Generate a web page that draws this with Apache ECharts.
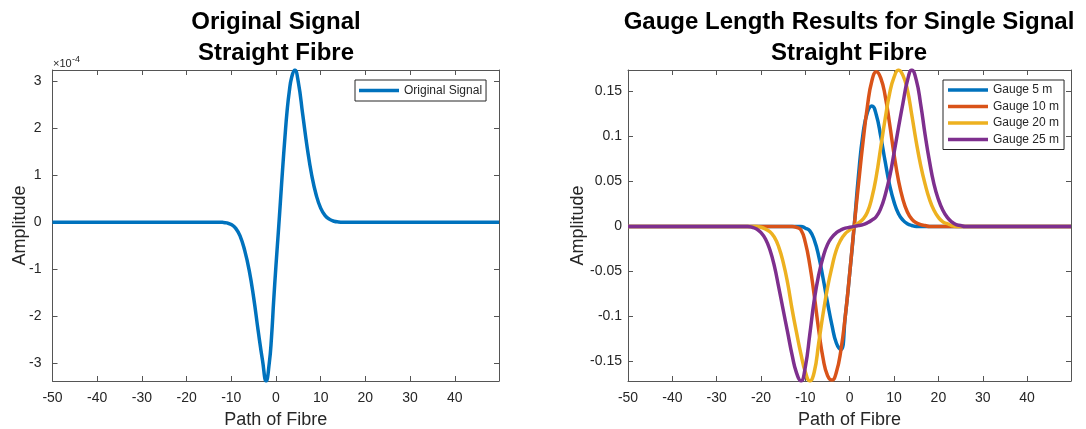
<!DOCTYPE html>
<html>
<head>
<meta charset="utf-8">
<script src="https://cdn.jsdelivr.net/npm/echarts@6/dist/echarts.min.js"></script>
<style>
  html, body { margin: 0; padding: 0; background: #fff; }
  #chart { width: 1086px; height: 429px; }
</style>
</head>
<body>
<div id="chart"></div>
<script>
// ---- left panel: original signal (amplitude shown in units of 1e-4) ----
const origX = [-50, -40, -30, -20, -15, -13, -12, -11, -10, -9, -8, -7, -6, -5, -4, -3, -2.2, -1.5, -1, -0.5,
  0, 0.5, 1, 1.5, 2, 2.5, 3, 3.5, 4.2, 5, 6, 7, 8, 9, 10, 11, 12, 13, 14, 15, 20, 30, 40, 49.9];
const origAmp = [0, 0, 0, 0, 0, 0, -0.003, -0.015, -0.05, -0.13, -0.3, -0.6, -1.02, -1.6, -2.3, -2.95, -3.38, -3.0, -2.45, -1.65,
  -0.92, -0.25, 0.45, 1.15, 1.8, 2.38, 2.8, 3.08, 3.24, 2.98, 2.28, 1.58, 1.0, 0.58, 0.3, 0.14, 0.06, 0.02, 0.005, 0, 0, 0, 0, 0];

// ---- right panel: gauge length results ----
const gaugeX = [-50, -40, -30, -25, -24, -23, -22, -21, -20, -19, -18, -17, -16, -15, -14, -13, -12, -11, -10, -9,
  -8, -7, -6, -5, -4, -3, -2, -1, 0, 1, 2, 3, 4, 5, 6, 7, 8, 9, 10, 11,
  12, 13, 14, 15, 16, 17, 18, 19, 20, 21, 22, 23, 24, 25, 26, 27, 28, 30, 40, 49.9];
const gauge5 = [0, 0, 0, 0, 0, 0, 0, 0, 0, 0, 0, 0, 0, 0, 0, 0, 0, 0, -0.002, -0.005,
  -0.015, -0.033, -0.058, -0.085, -0.11, -0.13, -0.137, -0.1, -0.052, 0, 0.058, 0.103, 0.127, 0.134, 0.124, 0.1, 0.072, 0.046, 0.027, 0.014,
  0.007, 0.003, 0.001, 0, 0, 0, 0, 0, 0, 0, 0, 0, 0, 0, 0, 0, 0, 0, 0, 0];
const gauge10 = [0, 0, 0, 0, 0, 0, 0, 0, 0, 0, 0, 0, 0, 0, 0, 0, -0.001, -0.004, -0.018, -0.043,
  -0.077, -0.115, -0.147, -0.166, -0.171, -0.162, -0.138, -0.1, -0.052, 0, 0.048, 0.094, 0.134, 0.162, 0.172, 0.165, 0.145, 0.114, 0.08, 0.051,
  0.03, 0.016, 0.008, 0.004, 0.002, 0.001, 0, 0, 0, 0, 0, 0, 0, 0, 0, 0, 0, 0, 0, 0];
const gauge20 = [0, 0, 0, 0, 0, 0, 0, 0, -0.001, -0.003, -0.006, -0.012, -0.023, -0.04, -0.063, -0.092, -0.118, -0.142, -0.162, -0.172,
  -0.162, -0.13, -0.097, -0.068, -0.045, -0.026, -0.015, -0.008, -0.004, 0, 0.004, 0.008, 0.016, 0.032, 0.056, 0.088, 0.12, 0.148, 0.166, 0.174,
  0.168, 0.152, 0.124, 0.094, 0.068, 0.047, 0.03, 0.018, 0.01, 0.005, 0.003, 0.001, 0, 0, 0, 0, 0, 0, 0, 0];
const gauge25 = [0, 0, 0, 0, 0, 0, -0.001, -0.003, -0.007, -0.014, -0.026, -0.044, -0.068, -0.093, -0.118, -0.143, -0.163, -0.172, -0.156, -0.12,
  -0.082, -0.054, -0.034, -0.02, -0.012, -0.007, -0.004, -0.002, -0.001, 0, 0.001, 0.002, 0.004, 0.007, 0.011, 0.02, 0.035, 0.055, 0.082, 0.11,
  0.137, 0.162, 0.174, 0.163, 0.136, 0.102, 0.072, 0.047, 0.03, 0.018, 0.01, 0.005, 0.002, 0.001, 0, 0, 0, 0, 0, 0];

const gaugeNames = ['Gauge 5 m', 'Gauge 10 m', 'Gauge 20 m', 'Gauge 25 m'];
const gaugeColors = ['#0072BD', '#D95319', '#EDB120', '#7E2F8E'];

const xTicks = [-50, -40, -30, -20, -10, 0, 10, 20, 30, 40];
const yTicksLeft = [-3, -2, -1, 0, 1, 2, 3];
const yTicksRight = [-0.15, -0.1, -0.05, 0, 0.05, 0.1, 0.15];

const FONT = 'Liberation Sans';
const AXIS = '#555555';
const TEXT = '#262626';

const pairs = (xs, ys) => xs.map((x, i) => [x, ys[i]]);

// one axis of the boxed MATLAB-style frame
function frameAxis(grid, pos, min, max, ticks, labelMargin, name, nameGap) {
  const ax = {
    gridIndex: grid, type: 'value', position: pos, min: min, max: max,
    axisLine: { show: true, onZero: false, lineStyle: { color: AXIS, width: 1 } },
    axisTick: { show: true, inside: true, length: 5, customValues: ticks, lineStyle: { color: AXIS } },
    axisLabel: { show: labelMargin != null, customValues: ticks, color: TEXT, fontSize: 14, fontFamily: FONT, margin: labelMargin || 8 },
    splitLine: { show: false }
  };
  if (name) {
    ax.name = name;
    ax.nameLocation = 'middle';
    ax.nameGap = nameGap;
    ax.nameMoveOverlap = false;
    ax.nameTextStyle = { fontSize: 18, color: TEXT, fontFamily: FONT };
  }
  return ax;
}

const chart = echarts.init(document.getElementById('chart'), null, { renderer: 'canvas' });

const titleStyle = { fontFamily: FONT, fontSize: 24, fontWeight: 'bold', color: '#000', lineHeight: 31 };

const option = {
  animation: false,
  backgroundColor: '#fff',
  title: [
    { text: 'Original Signal\nStraight Fibre', left: 276, top: 7, padding: 0, textAlign: 'center', textStyle: titleStyle },
    { text: 'Gauge Length Results for Single Signal\nStraight Fibre', left: 849, top: 7, padding: 0, textAlign: 'center', textStyle: titleStyle }
  ],
  grid: [
    { left: 52.5, top: 70, width: 446.5, height: 311, containLabel: false, outerBoundsMode: 'none' },
    { left: 628, top: 70, width: 443, height: 311, containLabel: false, outerBoundsMode: 'none' }
  ],
  legend: [
    {
      data: ['Original Signal'], orient: 'vertical', left: 355, top: 80,
      icon: 'rect', itemWidth: 40, itemHeight: 3.5,
      padding: [3, 4, 3, 4], borderColor: TEXT, borderWidth: 1, borderRadius: 0, backgroundColor: '#fff',
      textStyle: { fontSize: 12, color: TEXT, fontFamily: FONT, lineHeight: 15 }
    },
    {
      data: gaugeNames, orient: 'vertical', left: 943, top: 80,
      icon: 'rect', itemWidth: 40, itemHeight: 3.5, itemGap: 0.5,
      padding: [2, 5, 2, 5], borderColor: TEXT, borderWidth: 1, borderRadius: 0, backgroundColor: '#fff',
      textStyle: { fontSize: 12, color: TEXT, fontFamily: FONT, lineHeight: 16 }
    }
  ],
  xAxis: [
    frameAxis(0, 'bottom', -50, 49.9, xTicks, 10, 'Path of Fibre', 30),
    frameAxis(0, 'top', -50, 49.9, xTicks, null),
    frameAxis(1, 'bottom', -50, 49.9, xTicks, 10, 'Path of Fibre', 30),
    frameAxis(1, 'top', -50, 49.9, xTicks, null)
  ],
  yAxis: [
    frameAxis(0, 'left', -3.38, 3.24, yTicksLeft, 11, 'Amplitude', 23),
    frameAxis(0, 'right', -3.38, 3.24, yTicksLeft, null),
    frameAxis(1, 'left', -0.172, 0.174, yTicksRight, 6, 'Amplitude', 41),
    frameAxis(1, 'right', -0.172, 0.174, yTicksRight, null)
  ],
  graphic: [
    { type: 'text', left: 53, top: 58, style: { text: '×10', fontSize: 11, fill: TEXT, fontFamily: FONT } },
    { type: 'text', left: 72, top: 55, style: { text: '-4', fontSize: 9, fill: TEXT, fontFamily: FONT } }
  ],
  series: [
    {
      name: 'Original Signal', type: 'line', xAxisIndex: 0, yAxisIndex: 0,
      data: pairs(origX, origAmp), showSymbol: false, smooth: true,
      lineStyle: { width: 3.5, color: '#0072BD' }, itemStyle: { color: '#0072BD' }
    }
  ].concat([gauge5, gauge10, gauge20, gauge25].map((vals, i) => ({
    name: gaugeNames[i], type: 'line', xAxisIndex: 2, yAxisIndex: 2,
    data: pairs(gaugeX, vals), showSymbol: false, smooth: true,
    lineStyle: { width: 3.5, color: gaugeColors[i] }, itemStyle: { color: gaugeColors[i] }
  })))
};

chart.setOption(option);
</script>
</body>
</html>
